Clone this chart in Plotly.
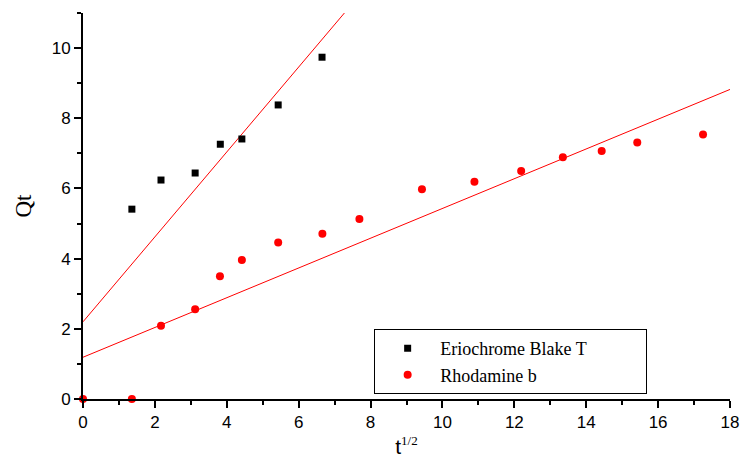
import plotly.graph_objects as go

# Intraparticle diffusion data: Qt versus square root of time
x_ebt = [1.36, 2.17, 3.12, 3.82, 4.42, 5.43, 6.65]
q_ebt = [5.41, 6.24, 6.44, 7.26, 7.41, 8.38, 9.74]

x_rb = [0.0, 1.36, 2.17, 3.12, 3.81, 4.42, 5.43, 6.66, 7.69, 9.43,
        10.89, 12.19, 13.35, 14.43, 15.42, 17.25]
q_rb = [0.0, 0.0, 2.09, 2.56, 3.50, 3.96, 4.46, 4.71, 5.13, 5.98,
        6.19, 6.50, 6.89, 7.07, 7.31, 7.54]

# Linear fits (intercept, slope)
fit_ebt = [2.2, 1.21]
fit_rb = [1.19, 0.424]

x_range = [0, 18]
y_range = [0, 11]

fig = go.Figure()

for fit in (fit_ebt, fit_rb):
    b, m = fit
    fig.add_trace(go.Scatter(
        x=x_range, y=[b + m * x_range[0], b + m * x_range[1]],
        mode="lines", line=dict(color="#ff0000", width=1),
        showlegend=False, hoverinfo="skip"))

pad = "\u00a0" * 12
fig.add_trace(go.Scatter(
    x=x_ebt, y=q_ebt, mode="markers", name="Eriochrome Blake T" + pad,
    marker=dict(symbol="square", size=7, color="black"),
    cliponaxis=False))
fig.add_trace(go.Scatter(
    x=x_rb, y=q_rb, mode="markers", name="Rhodamine b",
    marker=dict(symbol="circle", size=8, color="#ff0000"),
    cliponaxis=False))

axis_common = dict(
    showgrid=False, zeroline=False, showline=True, linecolor="black",
    linewidth=2, ticks="outside", ticklen=7, tickwidth=1.5,
    tickcolor="black", tickfont=dict(family="Liberation Sans, Arial",
                                     size=17, color="black"),
    minor=dict(ticks="outside", ticklen=4, tickwidth=1.5,
               tickcolor="black"),
    mirror=False, automargin=False,
)

fig.update_xaxes(range=x_range, dtick=2, minor_dtick=1,
                 title=dict(text="t<sup><span style='font-family:Liberation Serif;font-size:13px'>1/2</span></sup>",
                            font=dict(family="Liberation Sans, Arial", size=21, color="black"),
                            standoff=8),
                 **axis_common)
fig.update_yaxes(range=y_range, dtick=2, minor_dtick=1,
                 title=dict(text="Qt",
                            font=dict(family="Liberation Serif, Times New Roman", size=23, color="black"),
                            standoff=14),
                 **axis_common)

fig.update_layout(
    width=740, height=462,
    margin=dict(l=83, r=10, t=13, b=63),
    paper_bgcolor="white", plot_bgcolor="white",
    legend=dict(
        x=0.45, y=0.181, xanchor="left", yanchor="top",
        bgcolor="white", bordercolor="black", borderwidth=1,
        font=dict(family="Liberation Serif, Times New Roman", size=18, color="black"),
        itemwidth=55, tracegroupgap=0,
    ),
)

fig.write_html("out.html")
